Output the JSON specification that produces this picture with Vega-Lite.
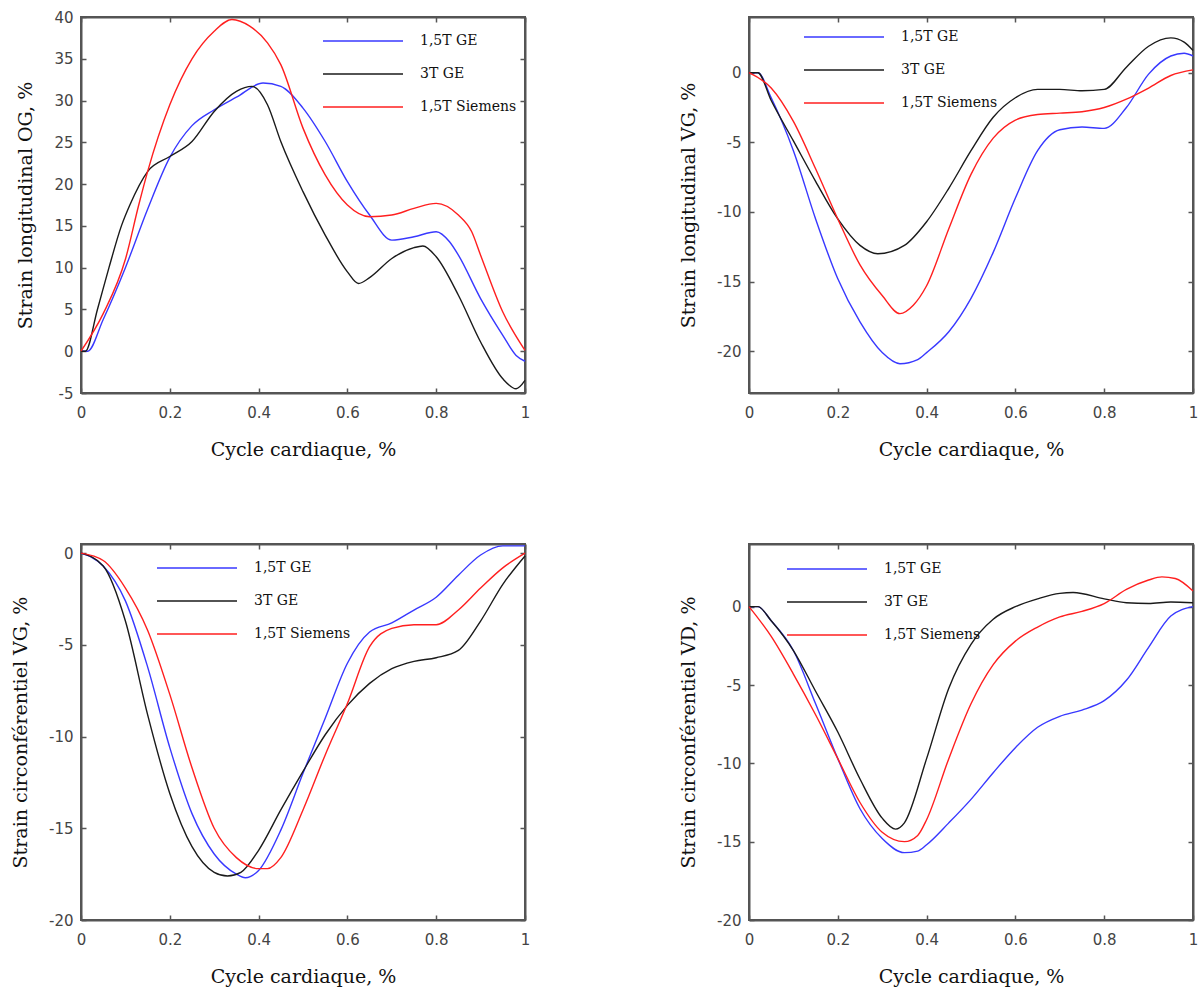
{
  "$schema": "https://vega.github.io/schema/vega-lite/v6.json",
  "background": "white",
  "padding": {"left": 10, "top": 9, "right": 0, "bottom": 5},
  "columns": 2,
  "spacing": {"column": 147, "row": 82},
  "resolve": {"legend": {"color": "independent"}},
  "config": {
    "view": {"stroke": "#555", "strokeWidth": 2},
    "axis": {
      "grid": false, "domainColor": "#555", "domainWidth": 2,
      "tickColor": "#555", "tickWidth": 1.5, "tickSize": -5,
      "labelFont": "DejaVu Sans", "labelFontSize": 15, "labelColor": "#444", "labelFlush": false,
      "titleFont": "DejaVu Serif", "titleFontSize": 19, "titleFontWeight": "normal", "titleColor": "#111"
    },
    "axisX": {"labelPadding": 17, "titlePadding": 20},
    "axisY": {"labelPadding": 13, "titlePadding": 18, "labelExpr": "datum.value + ''"},
    "legend": {
      "title": null, "symbolType": "M-4,0H4", "symbolSize": 400, "symbolStrokeWidth": 1.4,
      "labelFont": "DejaVu Serif", "labelFontSize": 14, "labelColor": "#111", "labelOffset": 46, "rowPadding": 15
    }
  },
  "datasets": {
    "A": [
      {"s":"1,5T GE","t":0,"v":0},{"s":"1,5T GE","t":0.015,"v":0},{"s":"1,5T GE","t":0.05,"v":3.8},{"s":"1,5T GE","t":0.1,"v":10},{"s":"1,5T GE","t":0.15,"v":17},{"s":"1,5T GE","t":0.2,"v":23.2},{"s":"1,5T GE","t":0.25,"v":27},{"s":"1,5T GE","t":0.3,"v":28.9},{"s":"1,5T GE","t":0.35,"v":30.4},{"s":"1,5T GE","t":0.41,"v":32.1},{"s":"1,5T GE","t":0.45,"v":31.7},{"s":"1,5T GE","t":0.5,"v":29.1},{"s":"1,5T GE","t":0.55,"v":25.1},{"s":"1,5T GE","t":0.6,"v":20.3},{"s":"1,5T GE","t":0.65,"v":16.3},{"s":"1,5T GE","t":0.7,"v":13.3},{"s":"1,5T GE","t":0.75,"v":13.7},{"s":"1,5T GE","t":0.8,"v":14.3},{"s":"1,5T GE","t":0.83,"v":13.1},{"s":"1,5T GE","t":0.85,"v":11.5},{"s":"1,5T GE","t":0.9,"v":6.3},{"s":"1,5T GE","t":0.95,"v":1.9},{"s":"1,5T GE","t":0.98,"v":-0.5},{"s":"1,5T GE","t":1,"v":-1.2},
      {"s":"3T GE","t":0,"v":0},{"s":"3T GE","t":0.01,"v":0},{"s":"3T GE","t":0.037,"v":5},{"s":"3T GE","t":0.063,"v":10},{"s":"3T GE","t":0.091,"v":15},{"s":"3T GE","t":0.11,"v":17.5},{"s":"3T GE","t":0.15,"v":21.5},{"s":"3T GE","t":0.2,"v":23.3},{"s":"3T GE","t":0.25,"v":25.1},{"s":"3T GE","t":0.3,"v":28.7},{"s":"3T GE","t":0.35,"v":31.1},{"s":"3T GE","t":0.385,"v":31.7},{"s":"3T GE","t":0.42,"v":29.5},{"s":"3T GE","t":0.45,"v":25.1},{"s":"3T GE","t":0.5,"v":19.1},{"s":"3T GE","t":0.55,"v":13.9},{"s":"3T GE","t":0.6,"v":9.5},{"s":"3T GE","t":0.625,"v":8.1},{"s":"3T GE","t":0.65,"v":8.8},{"s":"3T GE","t":0.7,"v":11.1},{"s":"3T GE","t":0.75,"v":12.4},{"s":"3T GE","t":0.77,"v":12.6},{"s":"3T GE","t":0.8,"v":11.3},{"s":"3T GE","t":0.85,"v":6.7},{"s":"3T GE","t":0.9,"v":1.1},{"s":"3T GE","t":0.95,"v":-3.3},{"s":"3T GE","t":0.98,"v":-4.5},{"s":"3T GE","t":1,"v":-3.5},
      {"s":"1,5T Siemens","t":0,"v":0},{"s":"1,5T Siemens","t":0.05,"v":4.5},{"s":"1,5T Siemens","t":0.1,"v":11},{"s":"1,5T Siemens","t":0.13,"v":17.5},{"s":"1,5T Siemens","t":0.15,"v":21.5},{"s":"1,5T Siemens","t":0.2,"v":29.5},{"s":"1,5T Siemens","t":0.25,"v":35},{"s":"1,5T Siemens","t":0.3,"v":38.3},{"s":"1,5T Siemens","t":0.34,"v":39.7},{"s":"1,5T Siemens","t":0.38,"v":38.9},{"s":"1,5T Siemens","t":0.42,"v":36.9},{"s":"1,5T Siemens","t":0.45,"v":34.3},{"s":"1,5T Siemens","t":0.5,"v":26.7},{"s":"1,5T Siemens","t":0.55,"v":21.1},{"s":"1,5T Siemens","t":0.6,"v":17.5},{"s":"1,5T Siemens","t":0.65,"v":16.1},{"s":"1,5T Siemens","t":0.7,"v":16.3},{"s":"1,5T Siemens","t":0.75,"v":17.1},{"s":"1,5T Siemens","t":0.8,"v":17.7},{"s":"1,5T Siemens","t":0.85,"v":16.3},{"s":"1,5T Siemens","t":0.88,"v":14.3},{"s":"1,5T Siemens","t":0.9,"v":11.5},{"s":"1,5T Siemens","t":0.95,"v":4.7},{"s":"1,5T Siemens","t":1,"v":0.1}
    ],
    "B": [
      {"s":"1,5T GE","t":0,"v":0},{"s":"1,5T GE","t":0.02,"v":0},{"s":"1,5T GE","t":0.05,"v":-1.8},{"s":"1,5T GE","t":0.1,"v":-5.6},{"s":"1,5T GE","t":0.15,"v":-10.5},{"s":"1,5T GE","t":0.2,"v":-14.8},{"s":"1,5T GE","t":0.25,"v":-17.9},{"s":"1,5T GE","t":0.3,"v":-20.1},{"s":"1,5T GE","t":0.34,"v":-20.9},{"s":"1,5T GE","t":0.38,"v":-20.6},{"s":"1,5T GE","t":0.4,"v":-20.1},{"s":"1,5T GE","t":0.45,"v":-18.6},{"s":"1,5T GE","t":0.5,"v":-16.2},{"s":"1,5T GE","t":0.55,"v":-12.9},{"s":"1,5T GE","t":0.6,"v":-9.0},{"s":"1,5T GE","t":0.65,"v":-5.6},{"s":"1,5T GE","t":0.7,"v":-4.1},{"s":"1,5T GE","t":0.75,"v":-3.9},{"s":"1,5T GE","t":0.8,"v":-4.0},{"s":"1,5T GE","t":0.85,"v":-2.5},{"s":"1,5T GE","t":0.9,"v":-0.1},{"s":"1,5T GE","t":0.95,"v":1.2},{"s":"1,5T GE","t":0.98,"v":1.4},{"s":"1,5T GE","t":1,"v":1.2},
      {"s":"3T GE","t":0,"v":0},{"s":"3T GE","t":0.02,"v":0},{"s":"3T GE","t":0.05,"v":-2.0},{"s":"3T GE","t":0.1,"v":-4.9},{"s":"3T GE","t":0.15,"v":-7.8},{"s":"3T GE","t":0.2,"v":-10.5},{"s":"3T GE","t":0.25,"v":-12.4},{"s":"3T GE","t":0.29,"v":-13.0},{"s":"3T GE","t":0.35,"v":-12.4},{"s":"3T GE","t":0.4,"v":-10.7},{"s":"3T GE","t":0.45,"v":-8.3},{"s":"3T GE","t":0.5,"v":-5.6},{"s":"3T GE","t":0.55,"v":-3.2},{"s":"3T GE","t":0.6,"v":-1.8},{"s":"3T GE","t":0.65,"v":-1.2},{"s":"3T GE","t":0.7,"v":-1.2},{"s":"3T GE","t":0.75,"v":-1.3},{"s":"3T GE","t":0.8,"v":-1.2},{"s":"3T GE","t":0.85,"v":0.4},{"s":"3T GE","t":0.9,"v":1.9},{"s":"3T GE","t":0.95,"v":2.5},{"s":"3T GE","t":0.98,"v":2.2},{"s":"3T GE","t":1,"v":1.6},
      {"s":"1,5T Siemens","t":0,"v":0},{"s":"1,5T Siemens","t":0.05,"v":-1.1},{"s":"1,5T Siemens","t":0.1,"v":-3.5},{"s":"1,5T Siemens","t":0.15,"v":-6.9},{"s":"1,5T Siemens","t":0.2,"v":-10.5},{"s":"1,5T Siemens","t":0.25,"v":-13.8},{"s":"1,5T Siemens","t":0.3,"v":-16.0},{"s":"1,5T Siemens","t":0.34,"v":-17.3},{"s":"1,5T Siemens","t":0.37,"v":-16.7},{"s":"1,5T Siemens","t":0.4,"v":-15.3},{"s":"1,5T Siemens","t":0.45,"v":-11.2},{"s":"1,5T Siemens","t":0.5,"v":-7.3},{"s":"1,5T Siemens","t":0.55,"v":-4.7},{"s":"1,5T Siemens","t":0.6,"v":-3.4},{"s":"1,5T Siemens","t":0.65,"v":-3.0},{"s":"1,5T Siemens","t":0.7,"v":-2.9},{"s":"1,5T Siemens","t":0.75,"v":-2.8},{"s":"1,5T Siemens","t":0.8,"v":-2.5},{"s":"1,5T Siemens","t":0.85,"v":-1.9},{"s":"1,5T Siemens","t":0.9,"v":-1.1},{"s":"1,5T Siemens","t":0.95,"v":-0.2},{"s":"1,5T Siemens","t":1,"v":0.2}
    ],
    "C": [
      {"s":"1,5T GE","t":0,"v":0},{"s":"1,5T GE","t":0.05,"v":-0.7},{"s":"1,5T GE","t":0.1,"v":-2.6},{"s":"1,5T GE","t":0.15,"v":-6.2},{"s":"1,5T GE","t":0.2,"v":-10.6},{"s":"1,5T GE","t":0.25,"v":-14.2},{"s":"1,5T GE","t":0.3,"v":-16.4},{"s":"1,5T GE","t":0.35,"v":-17.5},{"s":"1,5T GE","t":0.37,"v":-17.7},{"s":"1,5T GE","t":0.4,"v":-17.3},{"s":"1,5T GE","t":0.45,"v":-15.1},{"s":"1,5T GE","t":0.5,"v":-12.0},{"s":"1,5T GE","t":0.55,"v":-9.0},{"s":"1,5T GE","t":0.6,"v":-6.0},{"s":"1,5T GE","t":0.65,"v":-4.3},{"s":"1,5T GE","t":0.7,"v":-3.8},{"s":"1,5T GE","t":0.75,"v":-3.1},{"s":"1,5T GE","t":0.8,"v":-2.4},{"s":"1,5T GE","t":0.85,"v":-1.2},{"s":"1,5T GE","t":0.9,"v":-0.1},{"s":"1,5T GE","t":0.95,"v":0.4},{"s":"1,5T GE","t":1,"v":0.4},
      {"s":"3T GE","t":0,"v":0},{"s":"3T GE","t":0.05,"v":-0.7},{"s":"3T GE","t":0.1,"v":-3.7},{"s":"3T GE","t":0.15,"v":-8.8},{"s":"3T GE","t":0.2,"v":-13.1},{"s":"3T GE","t":0.25,"v":-16.0},{"s":"3T GE","t":0.3,"v":-17.4},{"s":"3T GE","t":0.33,"v":-17.6},{"s":"3T GE","t":0.36,"v":-17.4},{"s":"3T GE","t":0.4,"v":-16.2},{"s":"3T GE","t":0.45,"v":-14.0},{"s":"3T GE","t":0.5,"v":-11.9},{"s":"3T GE","t":0.55,"v":-9.9},{"s":"3T GE","t":0.6,"v":-8.3},{"s":"3T GE","t":0.65,"v":-7.1},{"s":"3T GE","t":0.7,"v":-6.3},{"s":"3T GE","t":0.75,"v":-5.9},{"s":"3T GE","t":0.8,"v":-5.7},{"s":"3T GE","t":0.85,"v":-5.3},{"s":"3T GE","t":0.9,"v":-3.7},{"s":"3T GE","t":0.95,"v":-1.7},{"s":"3T GE","t":1,"v":-0.15},
      {"s":"1,5T Siemens","t":0,"v":0},{"s":"1,5T Siemens","t":0.05,"v":-0.4},{"s":"1,5T Siemens","t":0.1,"v":-1.9},{"s":"1,5T Siemens","t":0.15,"v":-4.2},{"s":"1,5T Siemens","t":0.2,"v":-7.7},{"s":"1,5T Siemens","t":0.25,"v":-11.7},{"s":"1,5T Siemens","t":0.3,"v":-15.0},{"s":"1,5T Siemens","t":0.35,"v":-16.6},{"s":"1,5T Siemens","t":0.4,"v":-17.2},{"s":"1,5T Siemens","t":0.42,"v":-17.2},{"s":"1,5T Siemens","t":0.45,"v":-16.6},{"s":"1,5T Siemens","t":0.5,"v":-14.0},{"s":"1,5T Siemens","t":0.55,"v":-11.0},{"s":"1,5T Siemens","t":0.6,"v":-8.2},{"s":"1,5T Siemens","t":0.65,"v":-5.1},{"s":"1,5T Siemens","t":0.7,"v":-4.1},{"s":"1,5T Siemens","t":0.75,"v":-3.9},{"s":"1,5T Siemens","t":0.8,"v":-3.9},{"s":"1,5T Siemens","t":0.85,"v":-3.1},{"s":"1,5T Siemens","t":0.9,"v":-1.9},{"s":"1,5T Siemens","t":0.95,"v":-0.8},{"s":"1,5T Siemens","t":1,"v":0}
    ],
    "D": [
      {"s":"1,5T GE","t":0,"v":0},{"s":"1,5T GE","t":0.02,"v":0},{"s":"1,5T GE","t":0.05,"v":-0.9},{"s":"1,5T GE","t":0.1,"v":-2.8},{"s":"1,5T GE","t":0.15,"v":-6.2},{"s":"1,5T GE","t":0.2,"v":-9.7},{"s":"1,5T GE","t":0.25,"v":-12.9},{"s":"1,5T GE","t":0.3,"v":-14.8},{"s":"1,5T GE","t":0.35,"v":-15.7},{"s":"1,5T GE","t":0.38,"v":-15.6},{"s":"1,5T GE","t":0.4,"v":-15.2},{"s":"1,5T GE","t":0.45,"v":-13.8},{"s":"1,5T GE","t":0.5,"v":-12.3},{"s":"1,5T GE","t":0.55,"v":-10.6},{"s":"1,5T GE","t":0.6,"v":-9.0},{"s":"1,5T GE","t":0.65,"v":-7.7},{"s":"1,5T GE","t":0.7,"v":-7.0},{"s":"1,5T GE","t":0.75,"v":-6.6},{"s":"1,5T GE","t":0.8,"v":-6.0},{"s":"1,5T GE","t":0.85,"v":-4.7},{"s":"1,5T GE","t":0.9,"v":-2.6},{"s":"1,5T GE","t":0.95,"v":-0.6},{"s":"1,5T GE","t":1,"v":0},
      {"s":"3T GE","t":0,"v":0},{"s":"3T GE","t":0.02,"v":0},{"s":"3T GE","t":0.05,"v":-0.9},{"s":"3T GE","t":0.1,"v":-2.8},{"s":"3T GE","t":0.15,"v":-5.4},{"s":"3T GE","t":0.2,"v":-8.0},{"s":"3T GE","t":0.25,"v":-11.0},{"s":"3T GE","t":0.3,"v":-13.5},{"s":"3T GE","t":0.33,"v":-14.2},{"s":"3T GE","t":0.35,"v":-13.8},{"s":"3T GE","t":0.4,"v":-9.7},{"s":"3T GE","t":0.45,"v":-5.2},{"s":"3T GE","t":0.5,"v":-2.4},{"s":"3T GE","t":0.55,"v":-0.8},{"s":"3T GE","t":0.6,"v":0},{"s":"3T GE","t":0.65,"v":0.5},{"s":"3T GE","t":0.7,"v":0.85},{"s":"3T GE","t":0.73,"v":0.9},{"s":"3T GE","t":0.8,"v":0.5},{"s":"3T GE","t":0.85,"v":0.25},{"s":"3T GE","t":0.9,"v":0.2},{"s":"3T GE","t":0.95,"v":0.3},{"s":"3T GE","t":1,"v":0.25},
      {"s":"1,5T Siemens","t":0,"v":0},{"s":"1,5T Siemens","t":0.05,"v":-1.9},{"s":"1,5T Siemens","t":0.1,"v":-4.3},{"s":"1,5T Siemens","t":0.15,"v":-6.9},{"s":"1,5T Siemens","t":0.2,"v":-9.7},{"s":"1,5T Siemens","t":0.25,"v":-12.5},{"s":"1,5T Siemens","t":0.3,"v":-14.4},{"s":"1,5T Siemens","t":0.35,"v":-15.0},{"s":"1,5T Siemens","t":0.38,"v":-14.6},{"s":"1,5T Siemens","t":0.4,"v":-13.6},{"s":"1,5T Siemens","t":0.45,"v":-9.7},{"s":"1,5T Siemens","t":0.5,"v":-6.2},{"s":"1,5T Siemens","t":0.55,"v":-3.7},{"s":"1,5T Siemens","t":0.6,"v":-2.2},{"s":"1,5T Siemens","t":0.65,"v":-1.3},{"s":"1,5T Siemens","t":0.7,"v":-0.65},{"s":"1,5T Siemens","t":0.75,"v":-0.3},{"s":"1,5T Siemens","t":0.8,"v":0.2},{"s":"1,5T Siemens","t":0.85,"v":1.1},{"s":"1,5T Siemens","t":0.9,"v":1.7},{"s":"1,5T Siemens","t":0.93,"v":1.9},{"s":"1,5T Siemens","t":0.96,"v":1.8},{"s":"1,5T Siemens","t":1,"v":1.0}
    ]
  },
  "concat": [
    {
      "width": 444, "height": 376,
      "data": {"name": "A"},
      "layer": [
        {"mark": {"type": "line", "interpolate": "monotone", "strokeWidth": 1.4},
         "encoding": {
           "x": {"field": "t", "type": "quantitative", "scale": {"domain": [0, 1], "nice": false}, "axis": {"values": [0, 0.2, 0.4, 0.6, 0.8, 1], "format": "~g", "title": "Cycle cardiaque, %"}},
           "y": {"field": "v", "type": "quantitative", "scale": {"domain": [-5, 40], "nice": false, "zero": false}, "axis": {"values": [-5, 0, 5, 10, 15, 20, 25, 30, 35, 40], "title": "Strain longitudinal OG, %"}},
           "color": {"field": "s", "type": "nominal", "scale": {"domain": ["1,5T GE", "3T GE", "1,5T Siemens"], "range": ["#3838ff", "#1a1a1a", "#ff1f1f"]}, "legend": {"orient": "none", "legendX": 271, "legendY": 13}}
         }},
        {"mark": {"type": "line", "opacity": 0},
         "encoding": {
           "x": {"field": "t", "type": "quantitative", "axis": {"orient": "top", "values": [0, 0.2, 0.4, 0.6, 0.8, 1], "labels": false, "title": null}},
           "y": {"field": "v", "type": "quantitative", "axis": {"orient": "right", "values": [-5, 0, 5, 10, 15, 20, 25, 30, 35, 40], "labels": false, "title": null}}
         }}
      ],
      "resolve": {"axis": {"x": "independent", "y": "independent"}}
    },
    {
      "width": 444, "height": 376,
      "data": {"name": "B"},
      "layer": [
        {"mark": {"type": "line", "interpolate": "monotone", "strokeWidth": 1.4},
         "encoding": {
           "x": {"field": "t", "type": "quantitative", "scale": {"domain": [0, 1], "nice": false}, "axis": {"values": [0, 0.2, 0.4, 0.6, 0.8, 1], "format": "~g", "title": "Cycle cardiaque, %"}},
           "y": {"field": "v", "type": "quantitative", "scale": {"domain": [-23, 4], "nice": false, "zero": false}, "axis": {"values": [-20, -15, -10, -5, 0], "title": "Strain longitudinal VG, %"}},
           "color": {"field": "s", "type": "nominal", "scale": {"domain": ["1,5T GE", "3T GE", "1,5T Siemens"], "range": ["#3838ff", "#1a1a1a", "#ff1f1f"]}, "legend": {"orient": "none", "legendX": 84, "legendY": 9}}
         }},
        {"mark": {"type": "line", "opacity": 0},
         "encoding": {
           "x": {"field": "t", "type": "quantitative", "axis": {"orient": "top", "values": [0, 0.2, 0.4, 0.6, 0.8, 1], "labels": false, "title": null}},
           "y": {"field": "v", "type": "quantitative", "axis": {"orient": "right", "values": [-20, -15, -10, -5, 0], "labels": false, "title": null}}
         }}
      ],
      "resolve": {"axis": {"x": "independent", "y": "independent"}}
    },
    {
      "width": 444, "height": 376,
      "data": {"name": "C"},
      "layer": [
        {"mark": {"type": "line", "interpolate": "monotone", "strokeWidth": 1.4},
         "encoding": {
           "x": {"field": "t", "type": "quantitative", "scale": {"domain": [0, 1], "nice": false}, "axis": {"values": [0, 0.2, 0.4, 0.6, 0.8, 1], "format": "~g", "title": "Cycle cardiaque, %"}},
           "y": {"field": "v", "type": "quantitative", "scale": {"domain": [-20, 0.5], "nice": false, "zero": false}, "axis": {"values": [-20, -15, -10, -5, 0], "title": "Strain circonférentiel VG, %"}},
           "color": {"field": "s", "type": "nominal", "scale": {"domain": ["1,5T GE", "3T GE", "1,5T Siemens"], "range": ["#3838ff", "#1a1a1a", "#ff1f1f"]}, "legend": {"orient": "none", "legendX": 105, "legendY": 13}}
         }},
        {"mark": {"type": "line", "opacity": 0},
         "encoding": {
           "x": {"field": "t", "type": "quantitative", "axis": {"orient": "top", "values": [0, 0.2, 0.4, 0.6, 0.8, 1], "labels": false, "title": null}},
           "y": {"field": "v", "type": "quantitative", "axis": {"orient": "right", "values": [-20, -15, -10, -5, 0], "labels": false, "title": null}}
         }}
      ],
      "resolve": {"axis": {"x": "independent", "y": "independent"}}
    },
    {
      "width": 444, "height": 376,
      "data": {"name": "D"},
      "layer": [
        {"mark": {"type": "line", "interpolate": "monotone", "strokeWidth": 1.4},
         "encoding": {
           "x": {"field": "t", "type": "quantitative", "scale": {"domain": [0, 1], "nice": false}, "axis": {"values": [0, 0.2, 0.4, 0.6, 0.8, 1], "format": "~g", "title": "Cycle cardiaque, %"}},
           "y": {"field": "v", "type": "quantitative", "scale": {"domain": [-20, 4], "nice": false, "zero": false}, "axis": {"values": [-20, -15, -10, -5, 0], "title": "Strain circonférentiel VD, %"}},
           "color": {"field": "s", "type": "nominal", "scale": {"domain": ["1,5T GE", "3T GE", "1,5T Siemens"], "range": ["#3838ff", "#1a1a1a", "#ff1f1f"]}, "legend": {"orient": "none", "legendX": 67, "legendY": 14}}
         }},
        {"mark": {"type": "line", "opacity": 0},
         "encoding": {
           "x": {"field": "t", "type": "quantitative", "axis": {"orient": "top", "values": [0, 0.2, 0.4, 0.6, 0.8, 1], "labels": false, "title": null}},
           "y": {"field": "v", "type": "quantitative", "axis": {"orient": "right", "values": [-20, -15, -10, -5, 0], "labels": false, "title": null}}
         }}
      ],
      "resolve": {"axis": {"x": "independent", "y": "independent"}}
    }
  ]
}
